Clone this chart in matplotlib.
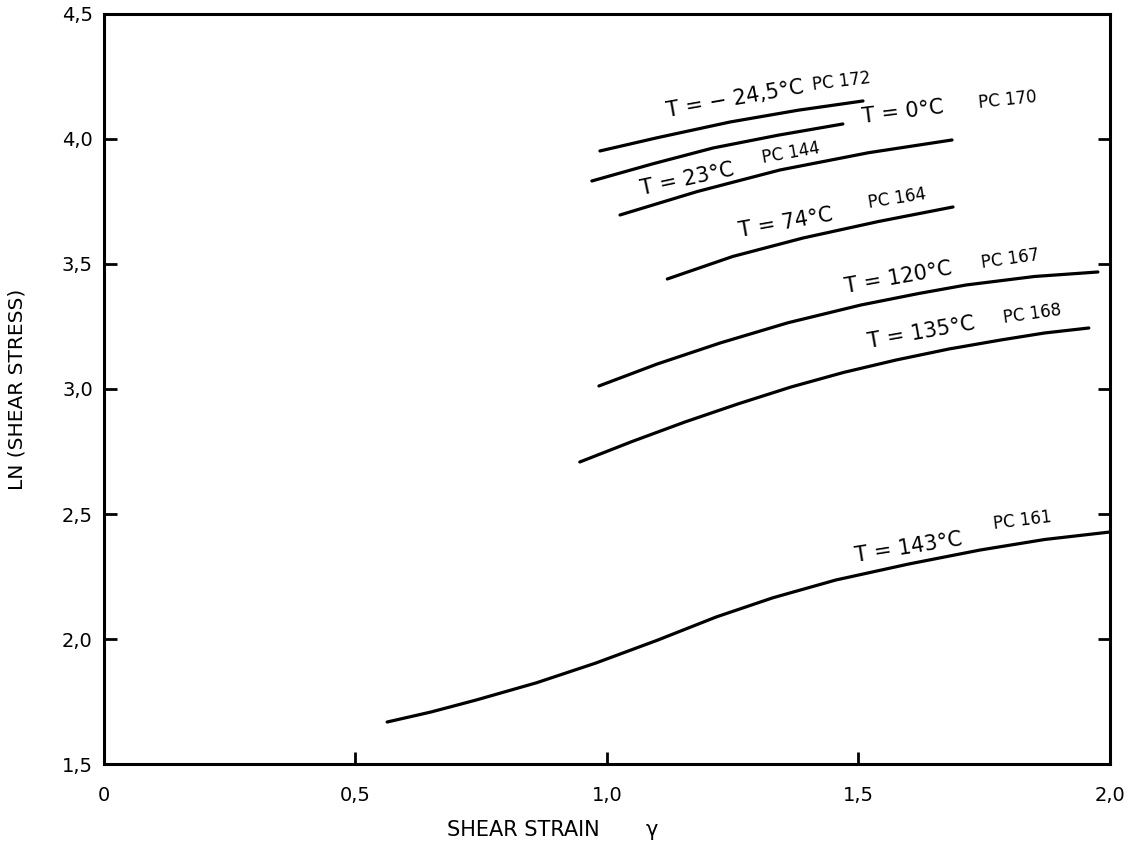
import numpy as np
import matplotlib.pyplot as plt

plt.rcParams['font.family'] = ['DejaVu Sans']

# curves: shear strain vs ln(shear stress)
strain_m24 = [0.986, 1.10, 1.245, 1.38, 1.509]
stress_m24 = [3.952, 4.005, 4.068, 4.115, 4.152]
strain_0 = [0.970, 1.09, 1.211, 1.34, 1.469]
stress_0 = [3.832, 3.900, 3.964, 4.015, 4.060]
strain_23 = [1.026, 1.18, 1.344, 1.52, 1.686]
stress_23 = [3.696, 3.790, 3.876, 3.945, 3.996]
strain_74 = [1.12, 1.25, 1.39, 1.54, 1.688]
stress_74 = [3.440, 3.530, 3.604, 3.670, 3.728]
strain_120 = [0.984, 1.10, 1.225, 1.36, 1.505, 1.62, 1.714, 1.85, 1.976]
stress_120 = [3.012, 3.100, 3.184, 3.265, 3.336, 3.382, 3.416, 3.450, 3.468]
strain_135 = [0.946, 1.05, 1.155, 1.26, 1.366, 1.47, 1.575, 1.68, 1.783, 1.87, 1.958]
stress_135 = [2.708, 2.790, 2.868, 2.940, 3.008, 3.066, 3.116, 3.160, 3.196, 3.224, 3.244]
strain_143 = [0.563, 0.65, 0.740, 0.86, 0.978, 1.10, 1.217, 1.33, 1.455, 1.60, 1.742, 1.87, 2.0]
stress_143 = [1.668, 1.708, 1.756, 1.825, 1.904, 1.995, 2.088, 2.165, 2.236, 2.300, 2.356, 2.398, 2.428]

curves = [(strain_m24, stress_m24), (strain_0, stress_0), (strain_23, stress_23),
          (strain_74, stress_74), (strain_120, stress_120), (strain_135, stress_135),
          (strain_143, stress_143)]

# (text, x, y, rotation, size)
labels = [
    ("T = \u2212 24,5°C", 1.12, 4.088, 10, 15),
    ("PC 172", 1.41, 4.195, 7, 12),
    ("T = 0°C", 1.509, 4.064, 7, 15),
    ("PC 170", 1.74, 4.124, 6, 12),
    ("T = 23°C", 1.07, 3.776, 12, 15),
    ("PC 144", 1.31, 3.904, 10, 12),
    ("T = 74°C", 1.265, 3.608, 10, 15),
    ("PC 164", 1.52, 3.724, 9, 12),
    ("T = 120°C", 1.475, 3.385, 10, 15),
    ("PC 167", 1.745, 3.484, 8, 12),
    ("T = 135°C", 1.52, 3.164, 10, 15),
    ("PC 168", 1.79, 3.264, 8, 12),
    ("T = 143°C", 1.495, 2.308, 9, 15),
    ("PC 161", 1.77, 2.44, 7, 12),
]

xticks = [0, 0.5, 1.0, 1.5, 2.0]
xticklabels = ["0", "0,5", "1,0", "1,5", "2,0"]
yticks = [1.5, 2.0, 2.5, 3.0, 3.5, 4.0, 4.5]
yticklabels = ["1,5", "2,0", "2,5", "3,0", "3,5", "4,0", "4,5"]

fig = plt.figure(figsize=(11.41, 8.46), dpi=100)
ax = fig.add_axes([0.0911, 0.0969, 0.8817, 0.8866])

for x, y in curves:
    ax.plot(x, y, color='black', lw=2.3, solid_capstyle='round',
            solid_joinstyle='round')

for txt, x, y, rot, fs in labels:
    ax.text(x, y, txt, rotation=rot, rotation_mode='anchor', ha='left',
            va='baseline', fontsize=fs)

ax.set_xlim(0, 2.0)
ax.set_ylim(1.5, 4.5)
ax.set_xticks(xticks)
ax.set_xticklabels(xticklabels)
ax.set_yticks(yticks)
ax.set_yticklabels(yticklabels)
ax.tick_params(direction='in', length=9, width=2, labelsize=14, top=False,
               right=True)
ax.tick_params(axis='x', pad=16)
ax.tick_params(axis='y', pad=8)
for s in ax.spines.values():
    s.set_linewidth(2.2)

ax.set_xlabel("SHEAR STRAIN       \u03b3", fontsize=15)
ax.xaxis.set_label_coords(0.446, -0.075)
ax.set_ylabel("LN (SHEAR STRESS)", fontsize=14.5)
ax.yaxis.set_label_coords(-0.0765, 0.5)

fig.savefig("out.png", dpi=100, facecolor='white')
